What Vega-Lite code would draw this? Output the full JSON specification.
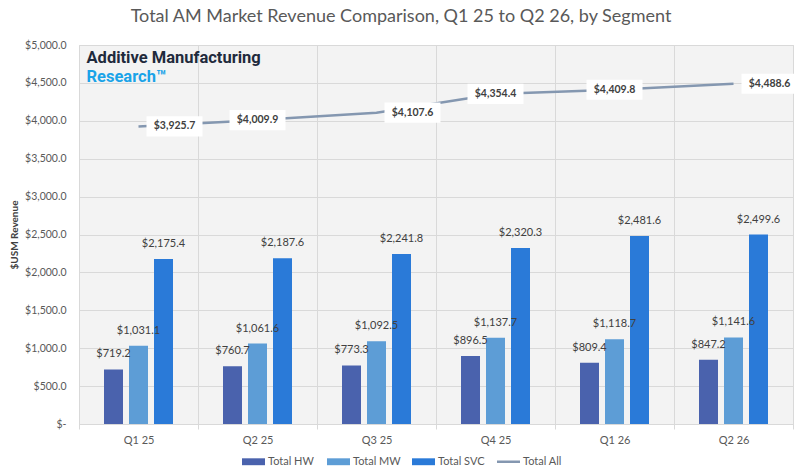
{
  "$schema": "https://vega.github.io/schema/vega-lite/v6.json",
  "width": 714,
  "height": 379,
  "autosize": {"type": "none"},
  "padding": {"left": 79, "top": 45, "right": 9, "bottom": 49},
  "background": "white",
  "config": {"font": "Lato", "view": {"stroke": "#d9d9d9", "fill": "#f3f3f3"}},
  "title": {"text": "Total AM Market Revenue Comparison, Q1 25 to Q2 26, by Segment", "fontSize": 18, "fontWeight": "normal", "color": "#595959", "anchor": "middle", "dx": -35, "offset": 14},
  "data": {"values": [
    {"quarter": "Q1 25", "series": "Total HW", "value": 719.2},
    {"quarter": "Q1 25", "series": "Total MW", "value": 1031.1},
    {"quarter": "Q1 25", "series": "Total SVC", "value": 2175.4},
    {"quarter": "Q1 25", "series": "Total All", "value": 3925.7},
    {"quarter": "Q2 25", "series": "Total HW", "value": 760.7},
    {"quarter": "Q2 25", "series": "Total MW", "value": 1061.6},
    {"quarter": "Q2 25", "series": "Total SVC", "value": 2187.6},
    {"quarter": "Q2 25", "series": "Total All", "value": 4009.9},
    {"quarter": "Q3 25", "series": "Total HW", "value": 773.3},
    {"quarter": "Q3 25", "series": "Total MW", "value": 1092.5},
    {"quarter": "Q3 25", "series": "Total SVC", "value": 2241.8},
    {"quarter": "Q3 25", "series": "Total All", "value": 4107.6},
    {"quarter": "Q4 25", "series": "Total HW", "value": 896.5},
    {"quarter": "Q4 25", "series": "Total MW", "value": 1137.7},
    {"quarter": "Q4 25", "series": "Total SVC", "value": 2320.3},
    {"quarter": "Q4 25", "series": "Total All", "value": 4354.4},
    {"quarter": "Q1 26", "series": "Total HW", "value": 809.4},
    {"quarter": "Q1 26", "series": "Total MW", "value": 1118.7},
    {"quarter": "Q1 26", "series": "Total SVC", "value": 2481.6},
    {"quarter": "Q1 26", "series": "Total All", "value": 4409.8},
    {"quarter": "Q2 26", "series": "Total HW", "value": 847.2},
    {"quarter": "Q2 26", "series": "Total MW", "value": 1141.6},
    {"quarter": "Q2 26", "series": "Total SVC", "value": 2499.6},
    {"quarter": "Q2 26", "series": "Total All", "value": 4488.6}
  ]},
  "encoding": {
    "x": {"field": "quarter", "type": "nominal", "sort": ["Q1 25", "Q2 25", "Q3 25", "Q4 25", "Q1 26", "Q2 26"],
      "scale": {"paddingInner": 0, "paddingOuter": 0},
      "axis": {"title": null, "tickBand": "extent", "grid": true, "gridColor": "#d9d9d9", "domainColor": "#d9d9d9", "tickColor": "#d9d9d9", "tickSize": 5, "labelAngle": 0, "labelFontSize": 11, "labelColor": "#595959", "labelPadding": 5}}
  },
  "layer": [
    {
      "encoding": {
        "y": {"field": "value", "type": "quantitative", "scale": {"domain": [0, 5000]},
          "axis": {"values": [0, 500, 1000, 1500, 2000, 2500, 3000, 3500, 4000, 4500, 5000], "labelExpr": "datum.value == 0 ? '$-' : format(datum.value, '$,.1f')", "title": "$USM Revenue", "titleFontSize": 10, "titleFontWeight": "bold", "titleColor": "#404040", "labelColor": "#595959", "labelFontSize": 10.5, "domain": false, "ticks": false, "gridColor": "#d9d9d9", "labelPadding": 13, "titlePadding": 5}}
      },
      "layer": [
        {
          "transform": [{"filter": "datum.series !== 'Total All'"}],
          "mark": {"type": "bar"},
          "encoding": {
            "xOffset": {"field": "series", "type": "nominal", "scale": {"domain": ["Total HW", "Total MW", "Total SVC"], "paddingInner": 0.24, "paddingOuter": 1}},
            "color": {"field": "series", "type": "nominal",
              "scale": {"domain": ["Total HW", "Total MW", "Total SVC", "Total All"], "range": ["#4a62ad", "#5d9dd6", "#2a7ad8", "#8497b0"]},
              "legend": {"orient": "none", "legendX": 169, "legendY": 411, "direction": "horizontal", "title": null, "labelFontSize": 11, "labelColor": "#595959", "symbolSize": 529, "columnPadding": 6, "labelOffset": 9, "gridAlign": "all",
                "encode": {"symbols": {"update": {
                  "shape": {"signal": "datum.value === 'Total All' ? 'stroke' : 'M-1,-0.3H1V0.3H-1Z'"},
                  "fill": {"signal": "datum.value === 'Total All' ? 'transparent' : scale('color', datum.value)"},
                  "stroke": {"signal": "scale('color', datum.value)"},
                  "strokeWidth": {"signal": "datum.value === 'Total All' ? 2.5 : 0"},
                  "opacity": {"value": 1}
                }}}}}
          }
        },
        {
          "transform": [{"filter": "datum.series !== 'Total All'"}],
          "mark": {"type": "text", "dy": -10, "baseline": "bottom", "fontSize": 11, "color": "#404040"},
          "encoding": {
            "xOffset": {"field": "series", "type": "nominal", "scale": {"domain": ["Total HW", "Total MW", "Total SVC"], "paddingInner": 0.24, "paddingOuter": 1}},
            "text": {"field": "value", "type": "quantitative", "format": "$,.1f"}
          }
        },
        {
          "transform": [{"filter": "datum.series === 'Total All'"}],
          "mark": {"type": "line", "color": "#8497b0", "strokeWidth": 2.5},
          "encoding": {}
        },
        {
          "transform": [{"filter": "datum.series === 'Total All' && indexof(['Q1 25','Q3 25','Q2 26'], datum.quarter) >= 0"}],
          "mark": {"type": "point", "shape": "M-1,-0.36H1V0.36H-1Z", "size": 3136, "filled": true, "fill": "white", "opacity": 1, "strokeWidth": 0, "xOffset": 36},
          "encoding": {}
        },
        {
          "transform": [{"filter": "datum.series === 'Total All' && indexof(['Q1 25','Q3 25','Q2 26'], datum.quarter) < 0"}],
          "mark": {"type": "point", "shape": "M-1,-0.36H1V0.36H-1Z", "size": 3136, "filled": true, "fill": "white", "opacity": 1, "strokeWidth": 0},
          "encoding": {}
        },
        {
          "transform": [{"filter": "datum.series === 'Total All' && indexof(['Q1 25','Q3 25','Q2 26'], datum.quarter) >= 0"}],
          "mark": {"type": "text", "fontWeight": "bold", "fontSize": 10.5, "color": "#404040", "dx": 36},
          "encoding": {"text": {"field": "value", "type": "quantitative", "format": "$,.1f"}}
        },
        {
          "transform": [{"filter": "datum.series === 'Total All' && indexof(['Q1 25','Q3 25','Q2 26'], datum.quarter) < 0"}],
          "mark": {"type": "text", "fontWeight": "bold", "fontSize": 10.5, "color": "#404040"},
          "encoding": {"text": {"field": "value", "type": "quantitative", "format": "$,.1f"}}
        }
      ]
    },
    {
      "data": {"values": [{"logo": "Additive Manufacturing", "line": "1"}]},
      "mark": {"type": "text", "align": "left", "baseline": "alphabetic", "font": "Roboto", "fontWeight": "bold", "fontSize": 16.5, "color": "#1f2a3c", "dx": -52},
      "encoding": {
        "x": {"datum": "Q1 25", "type": "nominal"},
        "y": {"field": "line", "type": "ordinal", "scale": {"domain": ["1", "2"], "range": [18, 37], "padding": 0}, "axis": null},
        "text": {"field": "logo", "type": "nominal"}
      }
    },
    {
      "data": {"values": [{"logo": "Research™", "line": "2"}]},
      "mark": {"type": "text", "align": "left", "baseline": "alphabetic", "font": "Roboto", "fontWeight": "bold", "fontSize": 16.5, "color": "#1aa3e8", "dx": -52},
      "encoding": {
        "x": {"datum": "Q1 25", "type": "nominal"},
        "y": {"field": "line", "type": "ordinal", "scale": {"domain": ["1", "2"], "range": [18, 37], "padding": 0}, "axis": null},
        "text": {"field": "logo", "type": "nominal"}
      }
    }
  ],
  "resolve": {"scale": {"y": "independent"}}
}
